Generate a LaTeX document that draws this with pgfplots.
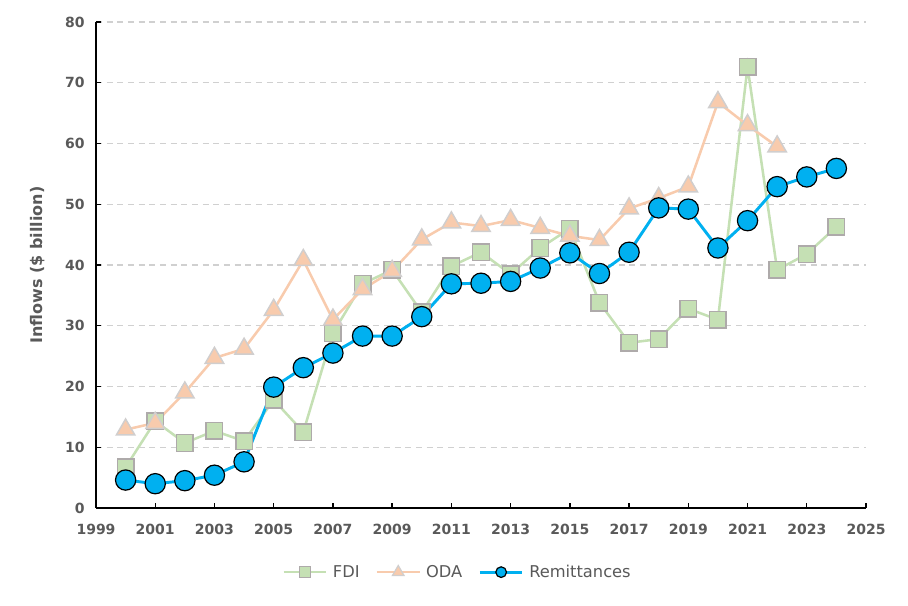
\documentclass[border=0pt]{standalone}
\usepackage{pgfplots}
\pgfplotsset{compat=1.18}
\usepackage{fontspec}
\setmainfont{DejaVu Sans}

\definecolor{fdi}{HTML}{C5E0B4}
\definecolor{fdiedge}{HTML}{AEAAAA}
\definecolor{oda}{HTML}{F8CBAD}
\definecolor{odaedge}{HTML}{D0CECE}
\definecolor{remit}{HTML}{00B0F0}
\definecolor{txt}{HTML}{595959}
\definecolor{gridc}{HTML}{D0D0D0}

\begin{document}
\begin{tikzpicture}
% 1px = 0.75pt, axis box lower left corner at origin
\path[use as bounding box] (-72pt,-73.5pt) rectangle (609pt,381pt);
\begin{axis}[
    scale only axis,
    width=577.5pt, height=364.5pt,
    at={(0,0)}, anchor=south west,
    xmin=1999, xmax=2025,
    ymin=0, ymax=80,
    xtick={1999,2001,...,2025},
    ytick={0,10,...,80},
    axis lines=left,
    axis line style={-, black, line width=1.1pt},
    tick style={black, line width=1pt},
    tick align=inside,
    major tick length=4pt,
    ymajorgrids,
    grid style={gridc, line width=0.9pt, dash pattern=on 4.5pt off 3.5pt},
    ticklabel style={font=\fontsize{10.5}{12}\selectfont\bfseries, text=txt},
    /pgf/number format/assume math mode=true,
    /pgf/number format/1000 sep={},
    yticklabel style={xshift=-5pt},
    xticklabel style={yshift=-8.5pt},
    ylabel={Inflows (\$ billion)},
    ylabel style={font=\fontsize{12}{14}\selectfont\bfseries, text=txt, yshift=8pt},
    legend columns=3,
    legend style={draw=none, at={(0.47,-0.132)}, anchor=center,
        font=\fontsize{12.2}{14}\selectfont, text=txt,
        /tikz/every odd column/.append style={column sep=2pt},
        /tikz/every even column/.append style={column sep=10pt}},
    legend image code/.code={
        \draw[#1, mark repeat=2, mark phase=2]
            plot coordinates {(0pt,0pt) (16pt,0pt) (32pt,0pt)};
    },
    clip=false,
]
\addplot[color=fdi, line width=1.9pt, mark=square*,
    mark options={fill=fdi, draw=fdiedge, line width=1.1pt, mark size=6.2pt},
    legend image post style={mark options={fill=fdi, draw=fdiedge, line width=0.9pt, mark size=4pt}}]
coordinates {
(2000,6.7) (2001,14.3) (2002,10.7) (2003,12.7) (2004,11.0) (2005,17.8)
(2006,12.5) (2007,28.8) (2008,36.9) (2009,39.2) (2010,32.2) (2011,39.8)
(2012,42.1) (2013,38.5) (2014,42.8) (2015,46.0) (2016,33.8) (2017,27.2)
(2018,27.8) (2019,32.8) (2020,31.0) (2021,72.6) (2022,39.2) (2023,41.8)
(2024,46.3)
};
\addlegendentry{FDI}
\addplot[color=oda, line width=1.9pt, mark=triangle*,
    mark options={fill=oda, draw=odaedge, line width=1.1pt, mark size=8pt},
    legend image post style={mark options={fill=oda, draw=odaedge, line width=0.9pt, mark size=5pt}}]
coordinates {
(2000,12.9) (2001,14.0) (2002,19.0) (2003,24.7) (2004,26.2) (2005,32.6)
(2006,40.8) (2007,31.0) (2008,36.0) (2009,39.0) (2010,44.2) (2011,47.0)
(2012,46.4) (2013,47.4) (2014,46.1) (2015,44.8) (2016,44.1) (2017,49.3)
(2018,51.0) (2019,52.9) (2020,66.8) (2021,63.0) (2022,59.5)
};
\addlegendentry{ODA}
\addplot[color=remit, line width=2.2pt, mark=*,
    mark options={fill=remit, draw=black, line width=0.9pt, mark size=7.6pt},
    legend image post style={mark options={fill=remit, draw=black, line width=0.9pt, mark size=4pt}}]
coordinates {
(2000,4.6) (2001,4.0) (2002,4.5) (2003,5.4) (2004,7.6) (2005,19.9)
(2006,23.1) (2007,25.5) (2008,28.3) (2009,28.3) (2010,31.5) (2011,36.9)
(2012,37.0) (2013,37.3) (2014,39.5) (2015,42.0) (2016,38.6) (2017,42.1)
(2018,49.4) (2019,49.2) (2020,42.8) (2021,47.3) (2022,52.9) (2023,54.5)
(2024,55.9)
};
\addlegendentry{Remittances}
\end{axis}
\end{tikzpicture}
\end{document}
